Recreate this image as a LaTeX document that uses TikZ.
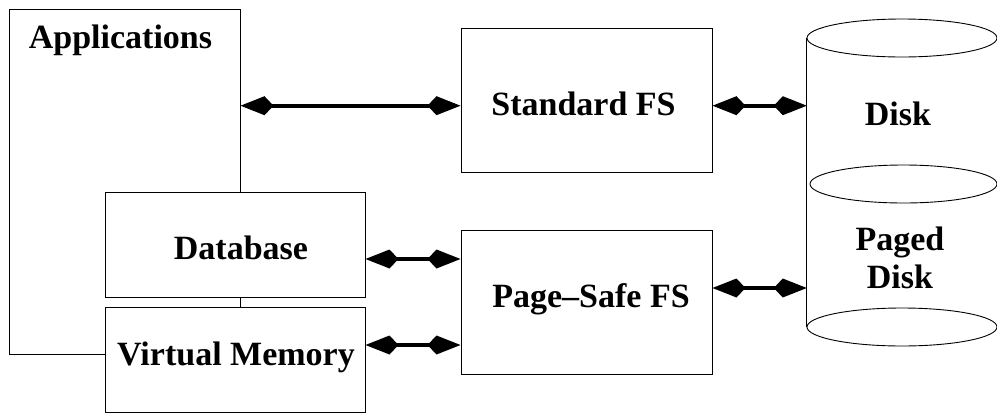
\documentclass[tikz,border=0pt]{standalone}
\usepackage{fontspec}
\setmainfont{Liberation Serif}
\usetikzlibrary{arrows.meta}
\begin{document}
\begin{tikzpicture}[x=1pt,y=-1pt,
  box/.style={draw=black,line width=1pt,fill=white,inner sep=0pt},
  lbl/.style={font=\bfseries\fontsize{34}{38}\selectfont,inner sep=0pt,anchor=base},
  link/.style={line width=3.8pt,{Kite[length=33pt,width=19pt,inset=9pt]}-{Kite[length=33pt,width=19pt,inset=9pt]}},
  cylline/.style={draw=black,line width=0.9pt}]
\useasboundingbox (0,0) rectangle (997,413);
% boxes
\node[box,minimum width=231pt,minimum height=345pt] (apps) at (124.5,181.5) {};
\node[box,minimum width=260pt,minimum height=105pt] (db) at (235,244.5) {};
\node[box,minimum width=260pt,minimum height=105pt] (vm) at (235,359.5) {};
\node[box,minimum width=251pt,minimum height=144pt] (sfs) at (586.5,100) {};
\node[box,minimum width=251pt,minimum height=144pt] (psfs) at (586.5,302) {};
% cylinder
\node[inner sep=0pt,minimum width=190pt,minimum height=289pt] (cyl) at (902,182.5) {};
\draw[cylline] (cyl.north west) -- (cyl.south west);
\draw[cylline] (902,38) ellipse [x radius=95pt,y radius=19pt];
\draw[cylline] (903.5,184) ellipse [x radius=93.5pt,y radius=19pt];
\draw[cylline] (902,327) ellipse [x radius=95pt,y radius=19pt];
% labels
\node[lbl] (appsl) at (120.5,48) {Applications};
\node[lbl] (dbl) at (241,259) {Database};
\node[lbl] (vml) at (236,365) {Virtual Memory};
\node[lbl] (sfsl) at (583.5,115) {Standard FS};
\node[lbl] (psfsl) at (591,307) {Page--Safe FS};
\node[lbl] (diskl) at (898,125) {Disk};
\node[lbl] (pdl1) at (900,250) {Paged};
\node[lbl] (pdl2) at (900,288) {Disk};
% connectors
\coordinate (a1) at ([yshift=-5.7pt]sfs.west);
\coordinate (a1r) at ([yshift=-5.7pt]sfs.east);
\draw[link] (a1 -| apps.east) -- (a1);
\draw[link] (a1r) -- (a1r -| cyl.west);
\coordinate (a2) at ([yshift=-14.5pt]db.east);
\draw[link] (a2) -- (a2 -| psfs.west);
\coordinate (a3) at ([yshift=14.5pt]vm.east);
\draw[link] (a3) -- (a3 -| psfs.west);
\coordinate (a4) at ([yshift=14pt]psfs.east);
\draw[link] (a4) -- (a4 -| cyl.west);
\end{tikzpicture}
\end{document}
